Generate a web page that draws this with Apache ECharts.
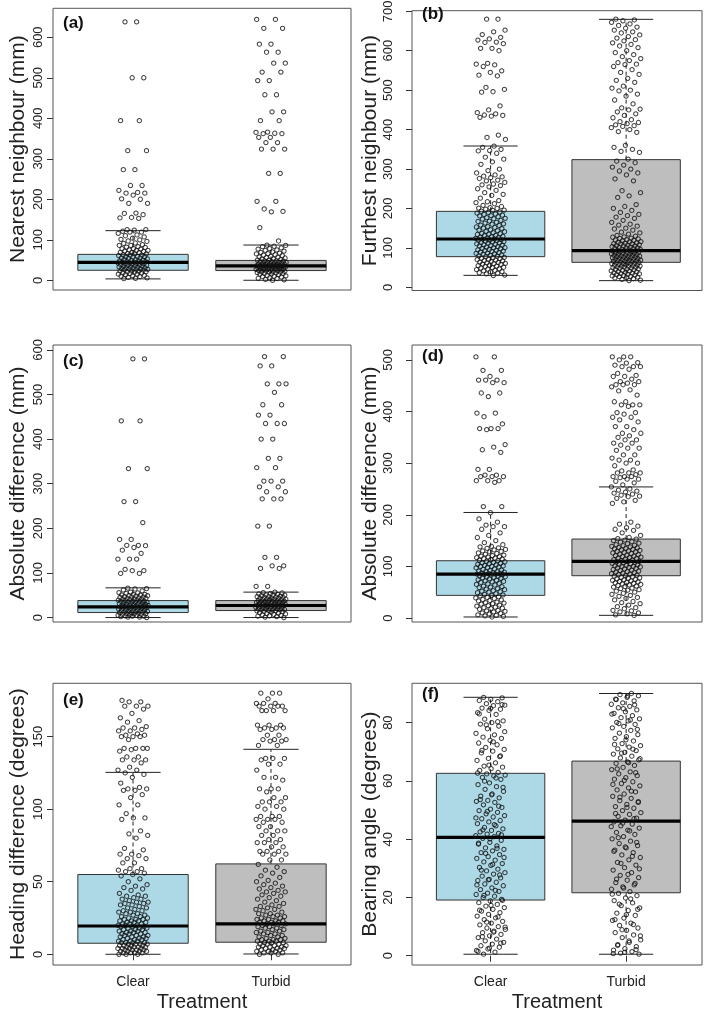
<!DOCTYPE html>
<html><head><meta charset="utf-8">
<script src="https://cdn.jsdelivr.net/npm/echarts@6/dist/echarts.min.js"></script>
<style>html,body{margin:0;padding:0;background:#fff}#c{width:709px;height:1009px}</style>
</head><body><div id="c"></div>
<script>
// ---------- data ----------
const categories = ['Clear', 'Turbid'];
const panelLetters = ['(a)', '(b)', '(c)', '(d)', '(e)', '(f)'];
const yTitles = ['Nearest neighbour (mm)', 'Furthest neighbour (mm)', 'Absolute difference (mm)',
                 'Absolute difference (mm)', 'Heading difference (degrees)', 'Bearing angle (degrees)'];
const xTitle = 'Treatment';
const yTicksA = [0, 100, 200, 300, 400, 500, 600];
const yTicksB = [0, 100, 200, 300, 400, 500, 600, 700];
const yTicksC = [0, 100, 200, 300, 400, 500, 600];
const yTicksD = [0, 100, 200, 300, 400, 500];
const yTicksE = [0, 50, 100, 150];
const yTicksF = [0, 20, 40, 60, 80];

// box statistics: [lower whisker, Q1, median, Q3, upper whisker] for Clear, Turbid
const boxA = [[3.4, 24.7, 44, 64, 122.5], [0, 24, 35.5, 49, 87]];
const boxB = [[30.4, 77.8, 122.6, 192.7, 358.4], [17, 63.4, 93, 323.8, 679.6]];
const boxC = [[0, 11.2, 24, 38, 66.6], [0, 15.7, 27, 38, 57]];
const boxD = [[2, 43.9, 85, 111, 204.5], [5.2, 82, 109.7, 153, 254]];
const boxE = [[0, 7.6, 19.5, 55, 125.4], [0.2, 8.3, 21, 62.3, 141.3]];
const boxF = [[0.5, 19.1, 40.6, 62.6, 88.7], [0.5, 21.6, 46.2, 66.8, 90]];

// individual observations (jittered points)
const A_clear = [638,638,500,500,394,394,320,320,273,273,234,234,222,217,215,215,210,201,200,190,190,166,165,162,155,154,153,125,125,124,
121,119,119,116,112,110,107,104,101,100,97,96,92,91,88,86,86,83,82,81,78,78,77,75,74,74,72,71,69,69,68,66,65,65,63,62,62,61,59,58,58,57,55,55,54,53,51,51,50,49,48,48,46,46,45,45,44,43,43,42,41,41,40,38,38,37,37,36,35,35,33,33,32,31,31,30,29,28,28,27,26,26,25,23,23,22,21,21,20,18,18,17,15,15,14,12,11,10,9,7,6,5,4];
const A_turbid = [644,644,622,622,583,583,563,563,536,536,514,514,493,493,458,458,416,416,394,394,366,365,363,362,362,353,353,340,340,324,324,324,264,264,195,195,176,170,169,130,97,
87,86,84,83,80,78,77,75,74,72,70,69,67,66,65,63,62,61,59,58,57,56,55,53,52,51,50,50,48,48,47,46,46,45,44,44,43,42,42,41,40,40,39,39,38,38,37,37,36,36,36,35,35,34,34,34,33,33,32,32,31,31,30,30,29,29,28,28,27,27,26,26,25,25,24,24,23,22,22,21,20,20,19,18,17,17,16,15,14,12,11,10,9,8,6,5,4,2,1,0];
const B_clear = [680,680,652,648,641,634,630,627,622,621,618,606,606,600,568,566,564,560,549,545,538,536,507,502,496,495,460,450,443,440,437,436,434,431,386,380,375,
358,355,350,347,346,340,330,325,318,312,300,296,290,285,282,280,278,276,272,270,266,262,260,258,255,250,246,240,236,233,226,220,217,215,212,208,205,202,201,200,
198,196,195,193,191,190,188,186,185,183,182,181,179,177,175,174,173,170,168,167,165,163,161,160,158,157,154,153,152,150,149,146,145,144,142,141,139,137,136,135,134,132,131,129,128,127,126,125,124,123,122,121,120,120,119,117,116,115,114,113,112,110,109,108,107,106,105,103,102,101,100,99,98,96,95,94,93,92,91,89,88,87,86,85,84,82,81,80,79,78,76,75,74,73,71,70,69,68,67,66,64,63,62,61,60,59,58,56,55,54,53,51,50,49,47,46,45,43,42,40,39,37,36,34,31,30];
const B_turbid = [680,678,676,672,668,664,660,657,652,648,645,640,636,632,628,625,620,616,612,608,600,595,590,585,580,575,570,566,565,560,552,545,540,530,525,520,510,505,500,498,490,485,475,465,455,452,450,445,440,436,430,425,420,418,415,412,410,408,405,400,395,393,360,355,350,345,342,325,320,316,310,305,300,295,290,285,275,270,245,240,232,228,210,205,200,195,190,185,182,178,175,170,165,160,158,155,150,148,145,140,138,135,132,
130,128,127,125,124,123,121,120,119,118,116,115,114,113,112,111,110,110,108,107,106,105,105,103,102,101,100,100,99,98,96,96,95,94,93,93,92,90,90,89,88,87,87,86,85,84,84,83,82,81,81,80,79,78,78,77,76,75,75,74,73,72,72,71,70,69,69,68,67,66,66,65,64,63,63,62,61,60,60,59,58,57,57,56,55,54,54,53,52,51,51,50,49,48,47,46,45,44,43,42,41,40,39,38,37,36,35,34,33,32,31,30,29,28,27,26,25,24,22,20,18,17];
const C_clear = [580,580,441,441,334,334,260,260,213,175,175,162,162,161,157,151,144,131,131,131,108,105,105,99,99,
66,65,64,62,60,57,56,55,54,52,52,51,50,49,49,48,47,46,46,45,44,43,43,42,41,41,40,39,39,38,37,37,36,36,35,34,34,33,33,32,31,31,30,30,29,28,28,27,27,26,25,25,24,24,23,22,22,21,21,20,19,19,18,17,17,16,16,15,14,14,13,12,12,11,11,10,9,9,8,7,7,6,5,5,4,3,3,2,1,1,0];
const C_turbid = [585,585,564,564,524,524,524,505,477,477,454,454,435,435,435,400,400,357,357,336,336,306,306,306,293,293,282,282,266,266,266,205,205,135,135,116,116,110,110,70,70,
57,56,55,54,53,52,51,50,50,49,48,47,47,46,45,45,44,43,43,42,41,41,40,40,39,38,38,37,37,36,36,35,35,34,33,33,32,32,31,31,30,30,29,29,28,28,27,27,26,26,25,25,24,24,23,23,22,21,21,20,20,19,18,18,17,17,16,15,15,14,13,12,11,10,9,8,7,6,5,4,3,2,1,0];
const D_clear = [506,506,480,480,468,461,461,461,456,456,436,436,429,397,397,390,376,367,367,367,365,336,331,326,321,288,288,277,277,274,274,274,266,266,266,263,216,216,
204,192,186,180,177,177,172,165,160,156,150,146,142,139,138,136,135,133,132,130,129,128,126,125,124,122,121,120,119,118,117,116,115,114,113,112,111,110,
109,108,107,106,105,104,103,102,101,100,100,99,98,97,95,94,93,92,91,90,90,89,88,87,86,86,85,85,84,84,83,82,81,80,80,79,78,77,76,74,73,72,71,70,69,67,66,65,64,62,61,60,59,57,56,55,53,52,51,50,49,47,46,45,44,43,41,40,39,38,36,35,34,33,31,30,29,28,27,25,24,23,21,20,19,18,17,15,14,13,12,10,9,8,6,5,4,3,2];
const D_turbid = [506,506,506,500,495,494,490,487,487,487,482,474,470,468,468,463,458,458,455,452,452,452,448,442,440,432,419,419,413,413,413,410,398,398,395,389,389,384,380,371,371,365,358,358,353,350,345,345,339,339,335,329,329,325,316,316,310,306,306,300,300,295,287,285,281,281,281,278,274,274,274,272,269,269,265,262,258,
254,250,248,246,244,242,240,238,236,235,232,228,225,222,186,182,178,175,172,170,165,160,156,154,
153,151,150,148,147,145,144,142,141,140,139,138,137,136,135,134,133,132,131,130,129,128,127,126,125,124,123,122,121,120,119,118,117,116,115,114,113,112,111,110,110,109,108,107,106,105,104,103,102,101,100,100,99,98,97,96,95,94,93,92,91,90,89,88,87,86,85,84,83,82,81,80,79,78,77,76,75,74,73,72,71,70,69,68,67,66,65,64,63,62,61,60,58,57,55,54,52,50,48,46,44,42,40,
38,35,32,30,28,25,22,20,18,15,14,12,10,8,6,5];
const E_clear = [175,174,174,171,171,171,169,166,163,161,160,157,156,156,155,154,154,152,151,151,150,150,150,148,142,142,142,142,141,140,136,136,134,134,134,132,129,127,127,
125,124,122,118,115,114,114,113,113,110,108,103,103,97,94,94,93,85,83,82,80,73,72,69,69,68,66,66,63,63,59,59,58,57,57,56,
55,54,52,50,48,47,46,45,44,42,41,40,40,39,38,38,37,36,36,35,35,34,34,33,32,32,31,30,30,29,29,28,28,27,27,26,26,25,25,24,24,24,23,23,23,22,22,22,21,21,21,20,20,20,19,19,19,18,18,18,17,17,17,16,16,16,15,15,15,14,14,14,13,13,13,12,12,12,11,11,11,10,10,10,9,9,9,8,8,8,8,7,7,7,7,6,6,6,6,5,5,5,5,4,4,4,4,3,3,3,3,2,2,2,2,1,1,1,1,0,0,0];
const E_turbid = [180,180,180,176,173,173,173,171,171,171,171,168,168,168,168,158,158,158,156,156,156,155,155,151,151,148,148,148,147,147,144,144,
135,135,135,134,131,131,127,122,122,120,114,114,114,112,108,108,105,105,105,102,102,100,100,95,95,95,93,93,93,91,91,88,88,85,85,85,82,82,79,79,77,77,77,74,74,71,71,71,69,69,69,65,65,
62,60,58,57,56,54,53,51,50,49,48,47,46,45,44,43,43,42,41,40,39,38,37,36,35,34,33,33,32,31,31,30,29,28,28,27,27,26,26,25,25,24,24,23,23,23,22,22,22,21,21,21,20,20,19,19,18,18,17,17,16,16,15,15,14,14,13,13,12,12,11,11,10,10,10,9,9,9,8,8,8,7,7,7,6,6,6,5,5,5,4,4,4,3,3,3,2,2,2,1,1,1,0,0];
const F_clear = [88.7,88.5,88,87.6,87.2,86.5,86,85.8,85,84.6,84.2,83.4,82.8,81.2,80.6,80,79.5,78.8,77.9,76.3,75.8,75,74.6,73.9,73,72.4,71.5,70.8,70.2,69.6,68.3,67.7,67,66.2,65.1,64.7,64.2,63.6,62.9,62.4,62,61.7,61.2,60.5,59.3,58.7,58,57.1,56.4,55.5,54.8,54.2,53.3,53,52.6,51.8,50.9,50.3,49.8,49.2,48.7,48.1,47.6,47,46.4,45.9,45.3,44.6,44,43.5,43,42.5,42,41.7,41.2,40.9,40.3,39.6,38.9,38.3,37.7,37,36.5,36,35.4,34.7,34,33.4,32.8,32.2,31.6,31,30.3,29.7,29.1,28.5,28,27.3,26.7,26.2,25.8,25.2,24.6,24,23.3,22.7,22.1,21.5,21,20.4,19.9,19.3,18.8,18.2,17.6,17,16.5,15.9,15.3,14.8,14.2,13.6,13,12.4,11.8,11.2,10.6,10,9.5,9,8.4,7.9,7.3,6.8,6.2,5.7,5.1,4.6,4,3.4,2.9,2.3,1.8,1.2,0.5,
86.2,84.9,83,80.3,79.2,76.9,73.4,70.5,68.6,65.4,62.7,61,59.9,57.8,55.2,53.6,51.3,49.5,47.3,45,43.2,41.5,40.1,38.6,36.8,35.1,33.7,31.3,29.4,27.7,26,24.3,22.4,20.7,19,17.3,15.6,13.3,11.5,9.8,8.1,6.5,4.3,2.6,1.5];
const F_turbid = [90,89.6,89.2,88.7,88.1,87.5,86.8,86.3,85.6,85.1,84.4,83.7,83.2,82.4,81.7,81.3,80.6,80.1,79.4,78.7,78.2,77.3,76.4,75.9,75.2,74.6,73.7,72.8,72.1,71.6,71,70.4,69.8,69.2,68.5,67.9,67.2,66.5,66,65.3,64.6,63.9,63.1,62.4,61.8,61.1,60.6,59.7,59.1,58.3,57.6,56.9,56.2,55.5,54.7,54,53.2,52.6,51.9,51.2,50.6,49.8,49.1,48.5,47.8,47.2,46.5,45.9,45.2,44.6,43.8,43.1,42.3,41.6,40.9,40.1,39.3,38.5,37.8,37,36.2,35.4,34.6,33.7,32.9,32,31.1,30.2,29.4,28.5,27.6,26.8,25.9,25.1,24.3,23.6,22.8,22,21.4,20.6,19.8,18.9,18.1,17.2,16.4,15.5,14.6,13.8,12.9,12.1,11.2,10.4,9.5,8.7,7.9,7.1,6.2,5.4,4.6,3.8,3.1,2.4,1.9,1.4,0.9,0.5,
89.1,87.9,86.1,84.8,82.9,80.9,79.7,77.7,74.1,72.5,70.9,69.5,67.6,66.3,64.1,62.8,60.2,58.8,56.5,54.4,52.9,50.9,48.8,47,45.5,44.3,42.8,40.5,38.9,37.3,35.8,34.1,31.7,29.8,27.9,26.3,24.8,23.2,21.1,19.5,17.7,15.9,14.1,12.4,10.7,8.9,6.8,5.1,3.5,2.1,1.1,0.7];

// ---------- layout (positions / ranges, not data) ----------
const layout = [
  {left: 53,  top: 8.3,   width: 298, height: 281.7, ymin: -24,  ymax: 671.5, xmax: 2.58, nameGap: 24, labelMargin: 8,  lx: 63,  ly: 25},
  {left: 412, top: 10.7,  width: 290, height: 279.8, ymin: -8,   ymax: 701.5, xmax: 2.56, nameGap: 30, labelMargin: 17, lx: 422, ly: 15.5},
  {left: 53,  top: 345,   width: 298, height: 277,   ymin: -10,  ymax: 611,   xmax: 2.58, nameGap: 24, labelMargin: 8,  lx: 63,  ly: 363},
  {left: 412, top: 345,   width: 290, height: 277,   ymin: -7.7, ymax: 529,   xmax: 2.56, nameGap: 30, labelMargin: 17, lx: 422, ly: 357.5},
  {left: 53,  top: 683.3, width: 298, height: 281.7, ymin: -7.4, ymax: 186.8, xmax: 2.58, nameGap: 24, labelMargin: 8,  lx: 63,  ly: 701.7},
  {left: 412, top: 683.3, width: 290, height: 281.7, ymin: -3.2, ymax: 93.5,  xmax: 2.56, nameGap: 30, labelMargin: 17, lx: 422, ly: 696}
];
const panels = [
  {ticks: yTicksA, box: boxA, pts: [A_clear, A_turbid]},
  {ticks: yTicksB, box: boxB, pts: [B_clear, B_turbid]},
  {ticks: yTicksC, box: boxC, pts: [C_clear, C_turbid]},
  {ticks: yTicksD, box: boxD, pts: [D_clear, D_turbid]},
  {ticks: yTicksE, box: boxE, pts: [E_clear, E_turbid]},
  {ticks: yTicksF, box: boxF, pts: [F_clear, F_turbid]}
];
const boxFill = ['#ADD8E6', '#BEBEBE'];
const FONT = '"Liberation Sans", Arial, sans-serif';

// deterministic horizontal display jitter (golden-ratio sequence), amplitude +/-0.11 category units
function jitter(i, seed) {
  const f = ((i + 1) * 0.6180339887 + seed) % 1;
  return (f - 0.5) * 0.22;
}

function renderBox(params, api) {
  const x = api.value(0), lo = api.value(1), q1 = api.value(2), med = api.value(3), q3 = api.value(4), hi = api.value(5);
  const hw = 0.4, sw = 0.2;
  const P = (a, b) => api.coord([a, b]);
  const line = (a, b, dash, w, col) => ({
    type: 'line', shape: {x1: a[0], y1: a[1], x2: b[0], y2: b[1]},
    style: {stroke: col || '#222', lineWidth: w || 1, lineDash: dash || null}
  });
  const tl = P(x - hw, q3), br = P(x + hw, q1);
  return {
    type: 'group',
    children: [
      line(P(x, q3), P(x, hi), [4, 3]),
      line(P(x, q1), P(x, lo), [4, 3]),
      line(P(x - sw, hi), P(x + sw, hi)),
      line(P(x - sw, lo), P(x + sw, lo)),
      {type: 'rect', shape: {x: tl[0], y: tl[1], width: br[0] - tl[0], height: br[1] - tl[1]},
       style: {fill: boxFill[params.dataIndex], stroke: '#333', lineWidth: 1}},
      line(P(x - hw, med), P(x + hw, med), null, 3.2, '#000')
    ]
  };
}

const grids = [], xAxes = [], yAxes = [], series = [], graphics = [];
panels.forEach((p, i) => {
  const L = layout[i];
  const bottom = i >= 4;
  grids.push({left: L.left, top: L.top, width: L.width, height: L.height, show: true,
              borderColor: '#555', borderWidth: 1, backgroundColor: 'transparent',
              containLabel: false, outerBoundsMode: 'none'});
  xAxes.push({
    type: 'value', gridIndex: i, min: 0.42, max: L.xmax,
    axisLine: {show: false}, splitLine: {show: false},
    axisTick: {show: bottom, length: 6, customValues: [1, 2], lineStyle: {color: '#333'}},
    axisLabel: {show: bottom, customValues: [1, 2], formatter: v => categories[Math.round(v) - 1] || '',
                fontSize: 14, margin: 10, color: '#222', fontFamily: FONT},
    name: bottom ? xTitle : '', nameLocation: 'middle', nameGap: 27,
    nameTextStyle: {fontSize: 20, color: '#222', fontFamily: FONT}
  });
  yAxes.push({
    type: 'value', gridIndex: i, min: L.ymin, max: L.ymax,
    axisLine: {show: false}, splitLine: {show: false},
    axisTick: {show: true, length: 6, customValues: p.ticks, lineStyle: {color: '#333'}},
    axisLabel: {rotate: 90, customValues: p.ticks, fontSize: 13, margin: L.labelMargin, color: '#222', fontFamily: FONT},
    name: yTitles[i], nameLocation: 'middle', nameRotate: 90, nameGap: L.nameGap,
    nameTextStyle: {fontSize: 21, color: '#222', fontFamily: FONT}
  });
  series.push({
    type: 'custom', xAxisIndex: i, yAxisIndex: i, z: 2, silent: true,
    renderItem: renderBox,
    encode: {x: 0, y: [1, 2, 3, 4, 5]},
    data: p.box.map((b, k) => [k + 1].concat(b))
  });
  const pts = [];
  p.pts.forEach((arr, k) => {
    arr.forEach((v, j) => pts.push([k + 1 + jitter(j, 0.13 * i + 0.41 * k), v]));
  });
  series.push({
    type: 'scatter', xAxisIndex: i, yAxisIndex: i, z: 3, silent: true,
    symbol: 'circle', symbolSize: 4.3,
    itemStyle: {color: 'rgba(0,0,0,0)', borderColor: '#111', borderWidth: 1},
    data: pts
  });
  graphics.push({type: 'text', left: L.lx, top: L.ly - 10,
                 style: {text: panelLetters[i], font: 'bold 17px ' + FONT, fill: '#111'}});
});

const chart = echarts.init(document.getElementById('c'), null, {renderer: 'canvas'});
chart.setOption({
  animation: false,
  backgroundColor: '#fff',
  grid: grids, xAxis: xAxes, yAxis: yAxes, series: series, graphic: graphics
});
</script></body></html>
